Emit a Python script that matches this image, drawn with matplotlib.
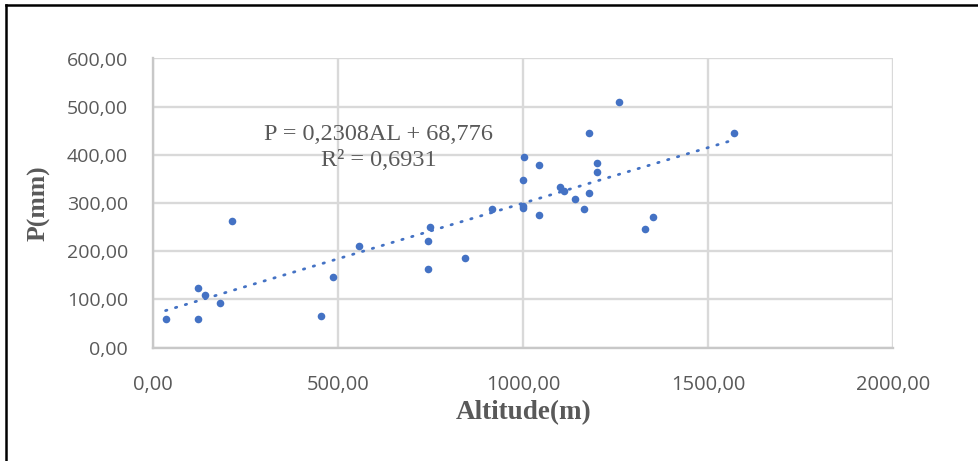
import numpy as np
import matplotlib
matplotlib.use("Agg")
import matplotlib.pyplot as plt
from matplotlib.lines import Line2D
from matplotlib.ticker import FuncFormatter

# ===== データ =====
altitude = [34, 122, 122, 141, 182, 213, 453, 486, 558, 742, 742, 749, 844,
            917, 1000, 1001, 1000, 1004, 1042, 1042, 1099, 1110, 1141, 1164,
            1178, 1178, 1201, 1201, 1259, 1331, 1350, 1571]
precip = [59, 59, 123, 110, 92, 262, 66, 146, 210, 162, 221, 250, 185,
          288, 294, 289, 347, 396, 378, 276, 334, 325, 308, 288,
          321, 445, 383, 365, 509, 246, 270, 445]

SLOPE = 0.2308
INTERCEPT = 68.776
R2 = 0.6931

x_ticks = [0, 500, 1000, 1500, 2000]
y_ticks = [0, 100, 200, 300, 400, 500, 600]

BLUE = "#4472C4"
GRID = "#D9D9D9"
TXT = "#595959"

W, H = 979, 461
fig = plt.figure(figsize=(W / 100, H / 100), dpi=100)
ax = fig.add_axes([153 / W, (H - 347.5) / H, (893 - 153) / W, (347.5 - 58.5) / H])

ax.scatter(altitude, precip, s=30, color=BLUE, zorder=3, linewidths=0)

xs = np.array([min(altitude), max(altitude)])
ax.plot(xs, SLOPE * xs + INTERCEPT, color=BLUE, lw=2.0,
        linestyle=(0, (0.5, 3.2)), dash_capstyle="round", zorder=2)

ax.set_xlim(0, 2000)
ax.set_ylim(0, 600)
ax.set_xticks(x_ticks)
ax.set_yticks(y_ticks)
fmt = FuncFormatter(lambda v, p: f"{v:.2f}".replace(".", ","))
ax.xaxis.set_major_formatter(fmt)
ax.yaxis.set_major_formatter(fmt)

ax.grid(True, color=GRID, lw=1.7)
ax.set_axisbelow(True)
for s in ["top", "right"]:
    ax.spines[s].set_visible(False)
for s in ["left", "bottom"]:
    ax.spines[s].set_color("#C8C8C8")
    ax.spines[s].set_linewidth(1.7)
ax.tick_params(length=0)
ax.tick_params(axis="y", pad=18, labelsize=14, labelcolor=TXT)
ax.tick_params(axis="x", pad=20, labelsize=14.5, labelcolor=TXT)
for lab in ax.get_xticklabels() + ax.get_yticklabels():
    lab.set_family("Open Sans")

fig.text(524 / W, 1 - 413 / H, "Altitude(m)", ha="center", va="center",
         family="Liberation Serif", weight="bold", fontsize=19.5, color=TXT)
fig.text(39 / W, 1 - 203 / H, "P(mm)", ha="center", va="center", rotation=90,
         family="Liberation Serif", weight="bold", fontsize=18.5, color=TXT)

eq = f"P = {SLOPE:.4f}AL + {INTERCEPT:.3f}".replace(".", ",")
r2 = f"R² = {R2:.4f}".replace(".", ",")
fig.text(379 / W, 1 - 135 / H, eq, ha="center", va="center",
         family="Liberation Serif", fontsize=17.5, color=TXT)
fig.text(379 / W, 1 - 160 / H, r2, ha="center", va="center",
         family="Liberation Serif", fontsize=17.5, color=TXT)

# 外枠 (左と上のみ)
fig.add_artist(Line2D([6 / W, 6 / W], [0, 1 - 5 / H], color="black", lw=1.8,
                      transform=fig.transFigure))
fig.add_artist(Line2D([6 / W, 1], [1 - 5 / H, 1 - 5 / H], color="black", lw=1.8,
                      transform=fig.transFigure))

fig.savefig("out.png", dpi=100)
